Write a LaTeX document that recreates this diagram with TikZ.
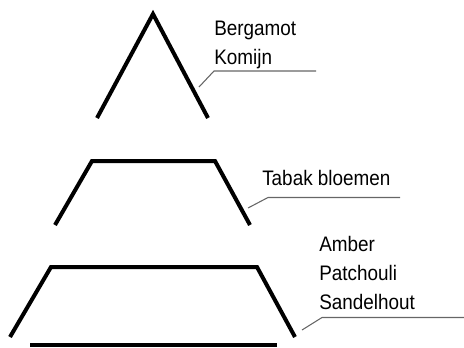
\documentclass[tikz,border=0pt]{standalone}
\usepackage{fontspec}
\setmainfont[FakeStretch=0.9]{Liberation Sans}
\usetikzlibrary{positioning}

\begin{document}
\begin{tikzpicture}[x=0.75pt,y=-0.75pt,
        tier/.style={line width=3pt},
        leader/.style={black!60,line width=0.8pt},
        note/.style={align=left,anchor=base west,inner sep=0pt,font=\fontsize{15.75}{21.75}\selectfont}]
        \useasboundingbox (0,0) rectangle (464,347);
        % Draw top tier
        \draw[tier] (97,118) -- (153,14) -- (208,118);
        % Draw middle tier
        \draw[tier] (55,225) -- (92,161) -- (215,161) -- (250,225);
        % Draw bottom tier
        \draw[tier] (10,337) -- (51,267) -- (257,267) -- (295,337);
        % Draw base line
        \draw[tier] (30,345) -- (277,345);
        % Draw notes (anchored on the last line)
        \node[note] (topnote) at (214,64) {Bergamot\\Komijn};
        \node[note] (midnote) at (262,185.5) {Tabak bloemen};
        \node[note] (basenote) at (319,309) {Amber\\Patchouli\\Sandelhout};
        % Draw leaders
        \coordinate (topfoot) at (199,87);
        \coordinate (topknee) at (214,71);
        \coordinate (topend) at (316,71);
        \coordinate (midfoot) at (248,208);
        \coordinate (midknee) at (268,197.5);
        \coordinate (midend) at (400,197.5);
        \coordinate (basefoot) at (302,330);
        \coordinate (baseknee) at (322,317.5);
        \coordinate (baseend) at (464,317.5);
        \draw[leader] (topfoot) -- (topknee) -- (topend);
        \draw[leader] (midfoot) -- (midknee) -- (midend);
        \draw[leader] (basefoot) -- (baseknee) -- (baseend);
    \end{tikzpicture}
\end{document}
